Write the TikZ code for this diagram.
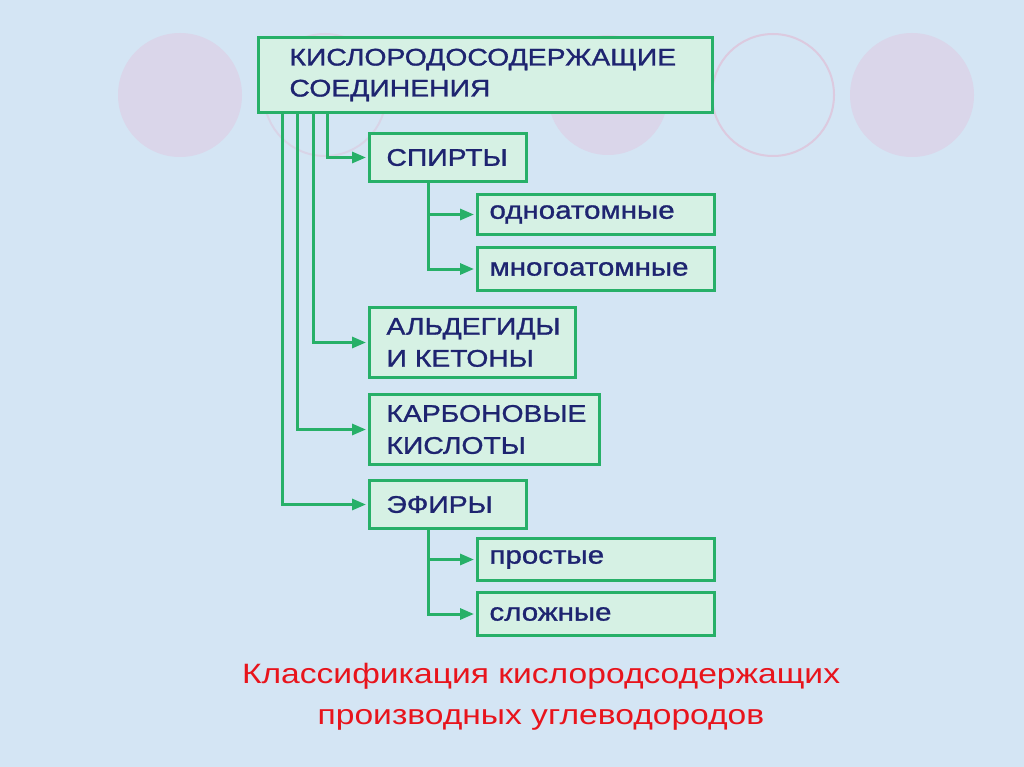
\documentclass[tikz,border=0pt]{standalone}
\usepackage{fontspec}
\setmainfont{Liberation Sans}
\newfontfamily\widefont[FakeStretch=1.18,FakeBold=1.2]{Liberation Sans}
\newfontfamily\capfont[FakeStretch=1.2]{Liberation Sans}
\usetikzlibrary{arrows.meta}
\definecolor{bgblue}{HTML}{D4E5F4}
\definecolor{lav}{HTML}{DAD6EA}
\definecolor{ringc}{HTML}{DCCADF}
\definecolor{boxgreen}{HTML}{27B068}
\definecolor{boxfill}{HTML}{D6F1E4}
\definecolor{navy}{HTML}{1E2470}
\definecolor{capred}{HTML}{E8141C}
\tikzset{
  box/.style={draw=boxgreen, fill=boxfill, line width=3pt, anchor=north west,
    align=left, text=navy, inner ysep=0pt},
  bigtxt/.style={font=\widefont\fontsize{24}{31}\selectfont},
  midtxt/.style={font=\widefont\fontsize{24}{32}\selectfont},
  smalltxt/.style={font=\widefont\fontsize{25}{28}\selectfont},
  conn/.style={draw=boxgreen, line width=3pt, -{Triangle[length=14pt,width=11pt]}, shorten >=2pt},
  disc/.style={fill=lav},
  ring/.style={draw=ringc, line width=2pt}
}
\begin{document}
\begin{tikzpicture}[x=1pt,y=-1pt]
\fill[bgblue] (0,0) rectangle (1024,767);
\useasboundingbox (0,0) rectangle (1024,767);
% decorative circles
\fill[disc] (180,95) circle (62);
\draw[ring, opacity=0.6] (325,95) circle (61);
\fill[disc] (608,95) circle (60);
\draw[ring] (773,95) circle (61);
\fill[disc] (912,95) circle (62);
% boxes
\node[box,bigtxt, minimum height=75pt, inner xsep=31pt, text width=392pt] (main) at (257,36)
  {КИСЛОРОДОСОДЕРЖАЩИЕ\\СОЕДИНЕНИЯ};
\node[box,midtxt, minimum height=48pt, inner xsep=17pt, text width=123pt] (spirt) at (368,132) {СПИРТЫ};
\node[box,smalltxt, minimum height=40pt, inner xsep=12pt, text width=213pt] (odno) at (476,193) {одноатомные};
\node[box,smalltxt, minimum height=43pt, inner xsep=12pt, text width=213pt] (mnogo) at (476,246) {многоатомные};
\node[box,midtxt, minimum height=70pt, inner xsep=17pt, text width=172pt] (ald) at (368,306) {АЛЬДЕГИДЫ\\И КЕТОНЫ};
\node[box,midtxt, minimum height=70pt, inner xsep=17pt, text width=196pt] (karb) at (368,393) {КАРБОНОВЫЕ\\КИСЛОТЫ};
\node[box,midtxt, minimum height=48pt, inner xsep=17pt, text width=123pt] (efir) at (368,479) {ЭФИРЫ};
\node[box,smalltxt, minimum height=42pt, inner xsep=12pt, text width=213pt] (prost) at (476,537) {простые};
\node[box,smalltxt, minimum height=43pt, inner xsep=12pt, text width=213pt] (slozh) at (476,591) {сложные};
% trunk coordinates
\coordinate (t1) at (282,0);
\coordinate (t2) at (297,0);
\coordinate (t3) at (313,0);
\coordinate (t4) at (327,0);
\coordinate (b1) at (428,0);
% connectors
\draw[conn] (main.south -| t4) |- (spirt.west);
\draw[conn] (main.south -| t3) |- (ald.west);
\draw[conn] (main.south -| t2) |- (karb.west);
\draw[conn] (main.south -| t1) |- (efir.west);
\draw[conn] (spirt.south -| b1) |- (odno.west);
\draw[conn] (spirt.south -| b1) |- (mnogo.west);
\draw[conn] (efir.south -| b1) |- (prost.west);
\draw[conn] (efir.south -| b1) |- (slozh.west);
% caption
\node[text=capred, font=\capfont\fontsize{28}{41}\selectfont, align=center] (cap) at (541,697)
  {Классификация кислородсодержащих\\производных углеводородов};
\end{tikzpicture}
\end{document}
